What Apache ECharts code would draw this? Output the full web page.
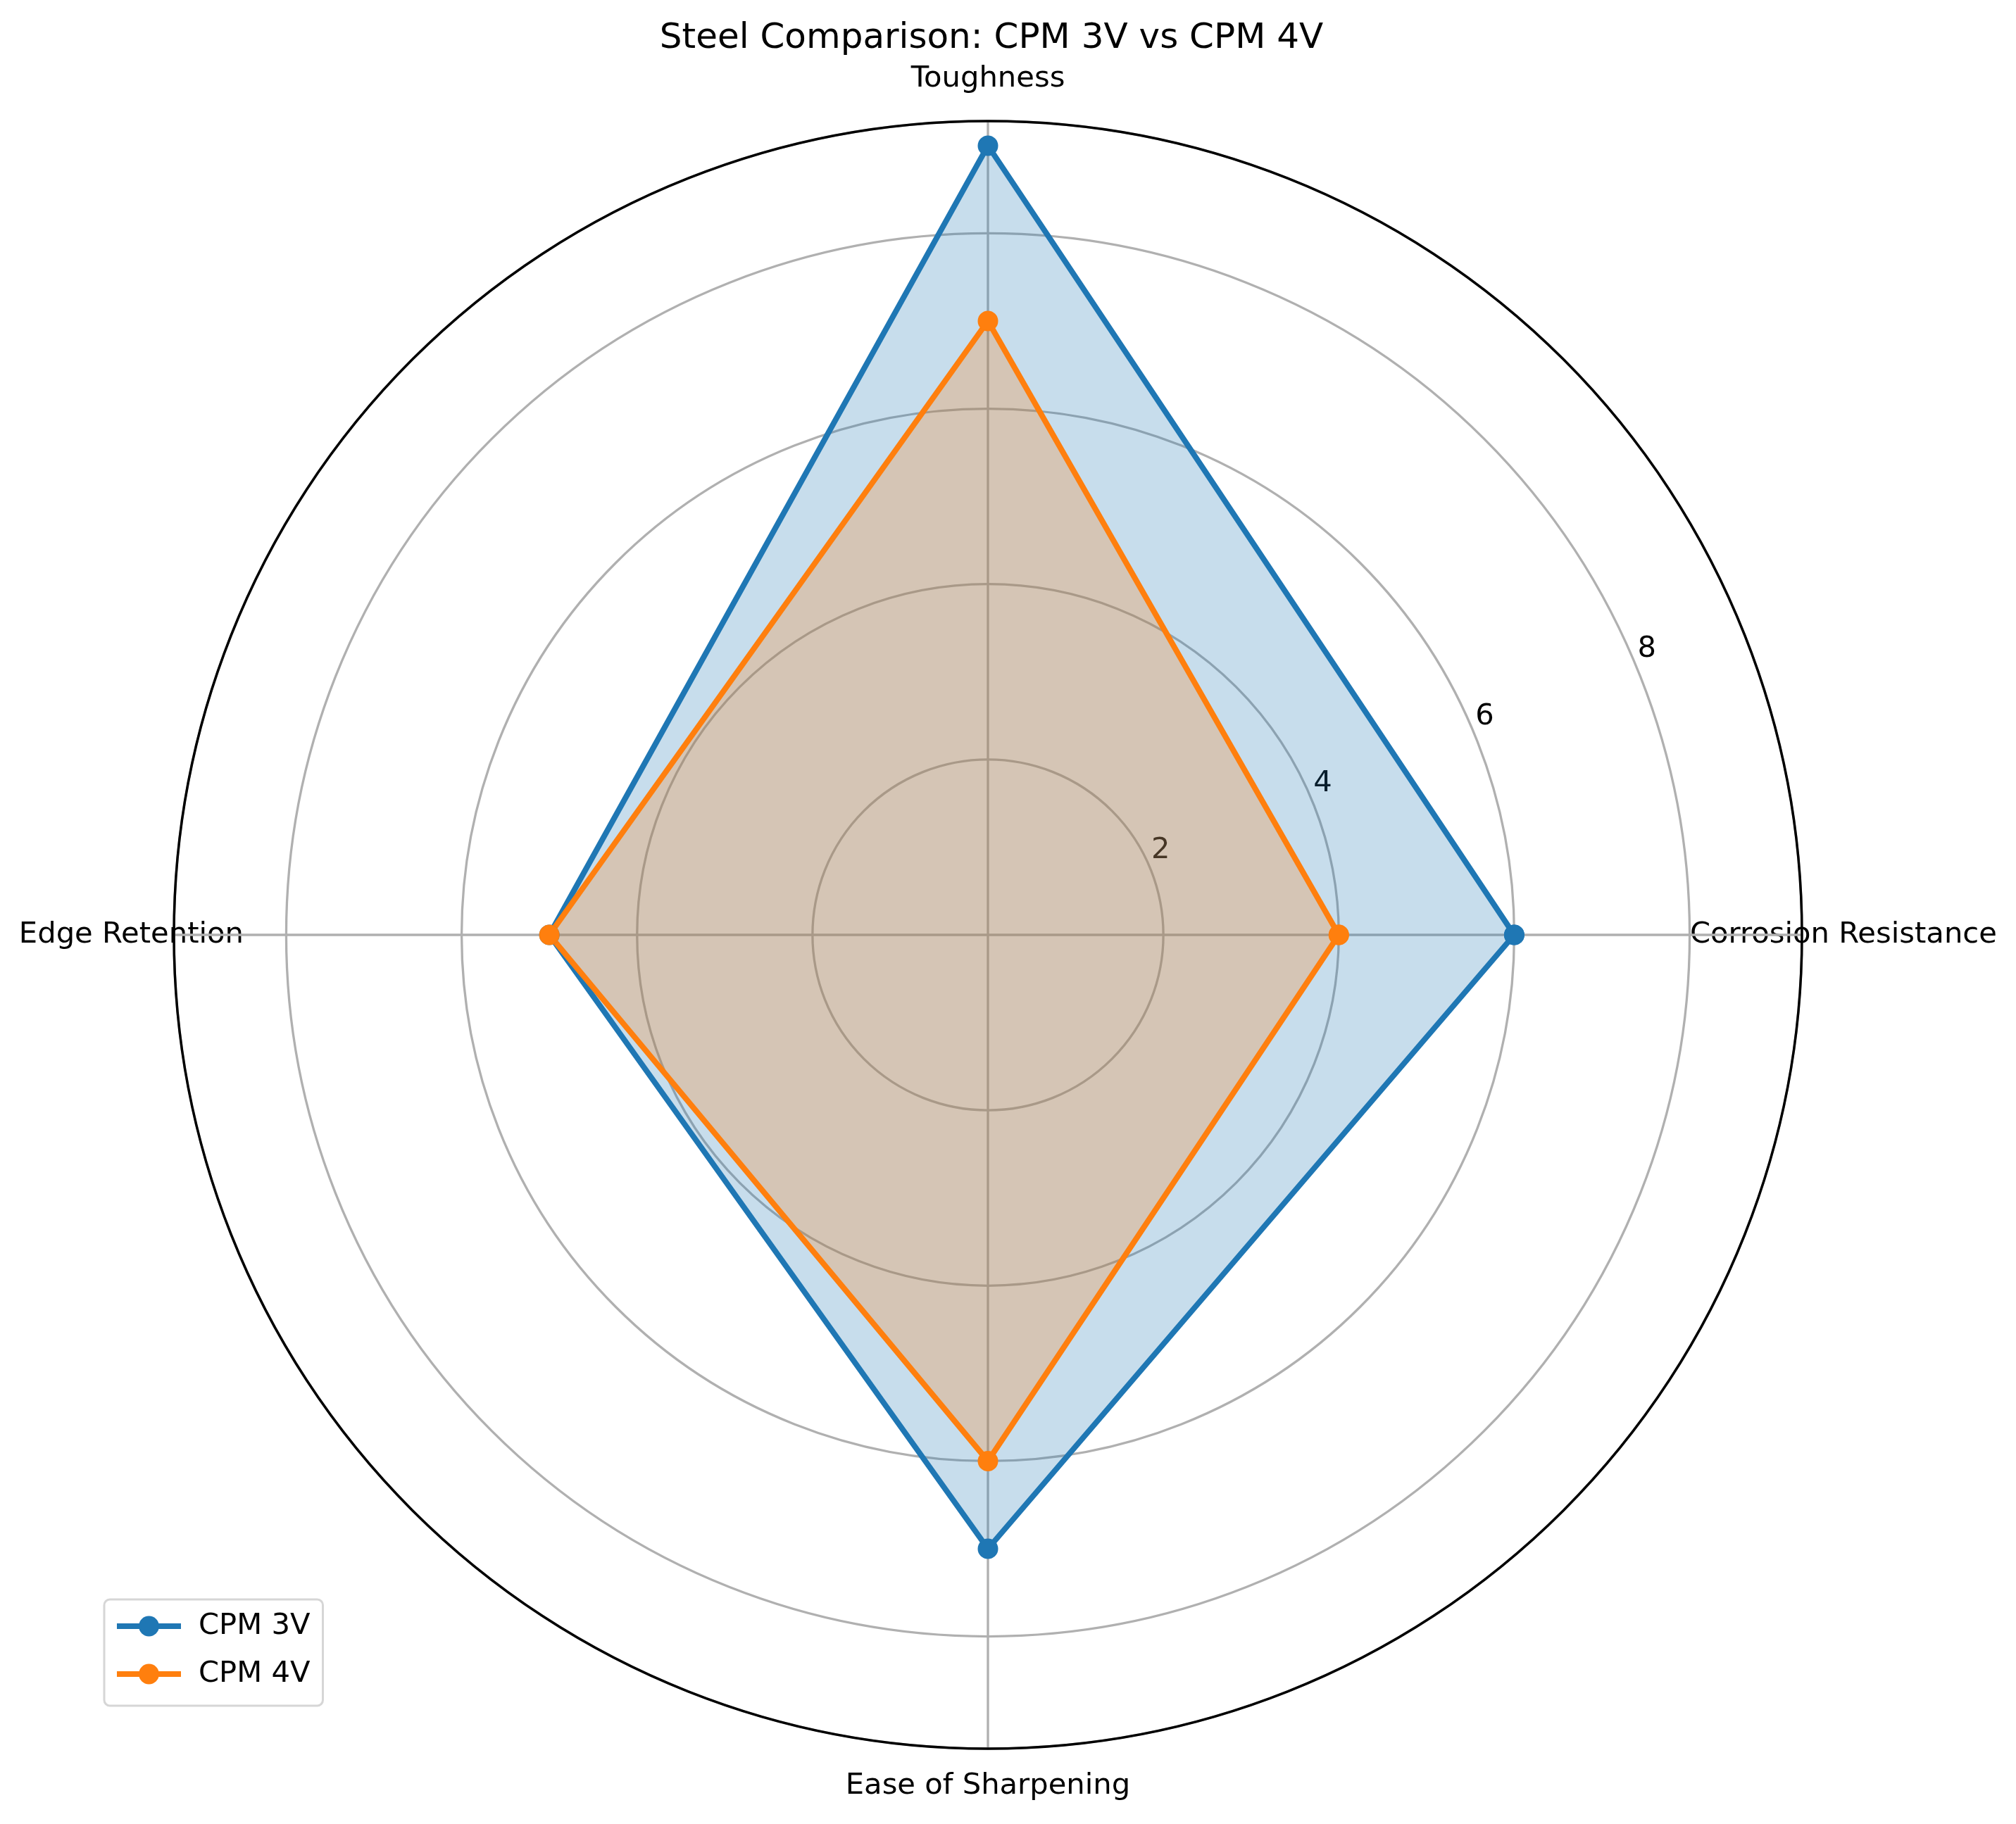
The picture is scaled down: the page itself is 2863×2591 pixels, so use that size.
<!DOCTYPE html>
<html>
<head>
<meta charset="utf-8">
<title>Steel Comparison</title>
<script src="https://cdn.jsdelivr.net/npm/echarts@6/dist/echarts.min.js"></script>
<style>
	html, body { margin: 0; padding: 0; background: #fff; }
	#chart { width: 2863px; height: 2591px; }
</style>
</head>
<body>
<div id="chart"></div>
<script>
var categories = [ 'Corrosion Resistance', 'Toughness', 'Edge Retention', 'Ease of Sharpening' ];
var cpm3v = [ 6, 9, 5, 7 ];
var cpm4v = [ 4, 7, 5, 6 ];
var radiusLabels = [ 2, 4, 6, 8 ];
var radiusMax = 9.28;

var font = 'DejaVu Sans';
var blue = '#1f77b4';
var orange = '#ff7f0e';

// [radius, angle] pairs, first point repeated to close the shape
function loop(values) {
	var step = 360 / values.length;
	var out = [];
	for (var i = 0; i < values.length; i++) {
		out.push([ values[i], i * step ]);
	}
	out.push([ values[0], 360 ]);
	return out;
}

function steelSeries(name, values, color) {
	return {
		name : name,
		type : 'line',
		coordinateSystem : 'polar',
		polarIndex : 0,
		data : loop(values),
		symbol : 'circle',
		symbolSize : 29,
		lineStyle : { color : color, width : 8 },
		itemStyle : { color : color },
		areaStyle : { color : color, opacity : 0.25 }
	};
}

var myChart = echarts.init(document.getElementById('chart'));
var center = [ 1403, 1328 ];
var option = {
	animation : false,
	backgroundColor : '#fff',
	title : {
		text : 'Steel Comparison: CPM 3V vs CPM 4V',
		left : 1403,
		textAlign : 'center',
		top : 25,
		textStyle : { fontFamily : font, fontSize : 50, fontWeight : 'normal', color : '#000' }
	},
	legend : {
		orient : 'vertical',
		left : 148,
		top : 2272,
		itemWidth : 91,
		itemHeight : 36,
		itemGap : 26,
		padding : [ 17, 18, 24, 14 ],
		borderColor : '#d6d6d6',
		borderWidth : 3,
		borderRadius : 8,
		lineStyle : { width : 8 },
		textStyle : { fontFamily : font, fontSize : 41.7, color : '#000', padding : [ 0, 0, 0, 20 ] },
		data : [ 'CPM 3V', 'CPM 4V' ]
	},
	polar : [ { center : center, radius : 1156 }, { center : center, radius : 1156 } ],
	angleAxis : [ {
		polarIndex : 0,
		type : 'value',
		min : 0,
		max : 360,
		interval : 90,
		startAngle : 0,
		clockwise : false,
		axisLine : { lineStyle : { color : '#000', width : 3.5 } },
		axisTick : { show : false },
		axisLabel : {
			// anchor inside the ring, each name pushed out to sit centred on it
			margin : -159,
			fontFamily : font,
			fontSize : 41.7,
			color : '#000',
			formatter : function(v) {
				var i = v / 90;
				return categories[i] ? '{c' + i + '|' + categories[i] + '}' : '';
			},
			rich : {
				c0 : { fontFamily : font, fontSize : 41.7, color : '#000', padding : [ 0, 0, 0, 0 ] },
				c1 : { fontFamily : font, fontSize : 41.7, color : '#000', padding : [ 0, 0, 198, 0 ] },
				c2 : { fontFamily : font, fontSize : 41.7, color : '#000', padding : [ 0, 60, 0, 0 ] },
				c3 : { fontFamily : font, fontSize : 41.7, color : '#000', padding : [ 191, 0, 0, 0 ] }
			}
		},
		splitLine : { show : true, lineStyle : { color : '#b0b0b0', width : 3.3 } }
	}, {
		polarIndex : 1,
		type : 'value',
		min : 0,
		max : 360,
		startAngle : 22.5,
		clockwise : false,
		show : false
	} ],
	radiusAxis : [ {
		polarIndex : 0,
		min : 0,
		max : radiusMax,
		interval : 2,
		axisLine : { show : false },
		axisTick : { show : false },
		axisLabel : { show : false },
		splitLine : { lineStyle : { color : '#b0b0b0', width : 3.3 } }
	}, {
		polarIndex : 1,
		min : 0,
		max : radiusMax,
		interval : 2,
		axisLine : { show : false },
		axisTick : { show : false },
		splitLine : { show : false },
		axisLabel : {
			margin : 26,
			align : 'center',
			verticalAlign : 'middle',
			padding : [ 0, 0, 0, 50 ],
			fontFamily : font,
			fontSize : 41.7,
			color : '#000',
			formatter : function(v) {
				return radiusLabels.indexOf(v) >= 0 ? String(v) : '';
			}
		}
	} ],
	series : [ steelSeries('CPM 3V', cpm3v, blue), steelSeries('CPM 4V', cpm4v, orange) ]
};
myChart.setOption(option);
</script>
</body>
</html>
